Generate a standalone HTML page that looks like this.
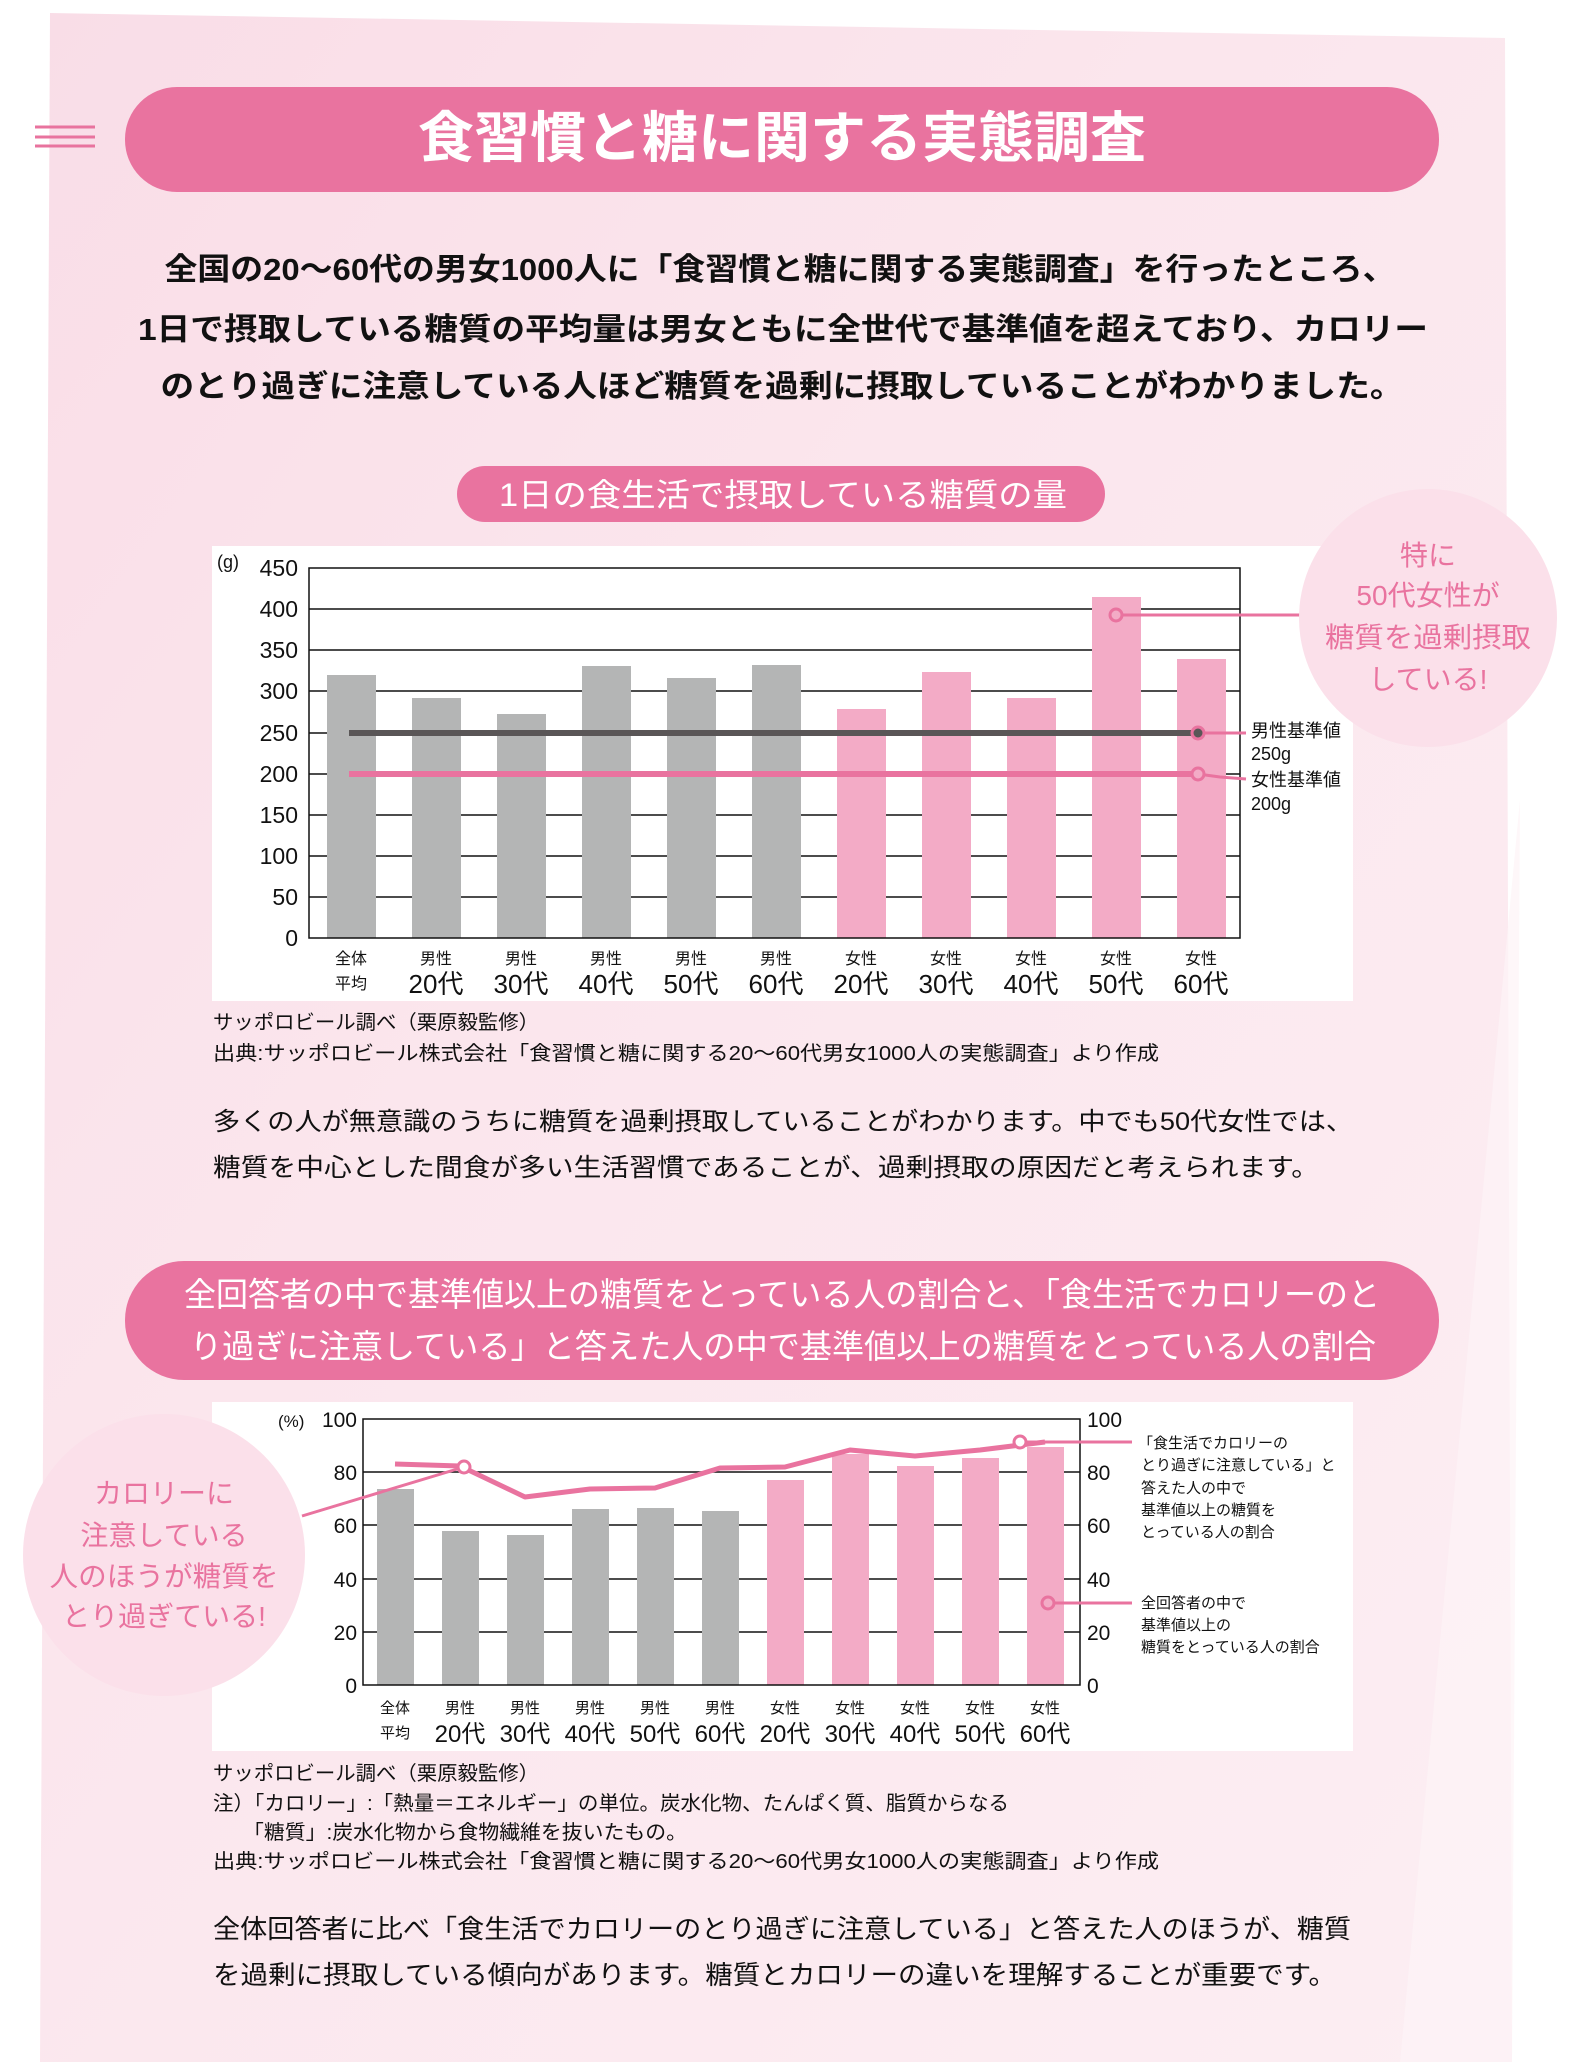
<!DOCTYPE html>
<html><head><meta charset="utf-8"><style>
html,body{margin:0;padding:0;background:#fff;}
svg{display:block;font-family:"Liberation Sans","Noto Sans CJK JP",sans-serif;}
</style></head><body>
<svg width="1577" height="2062" viewBox="0 0 1577 2062" xmlns="http://www.w3.org/2000/svg">
<defs>
<linearGradient id="bg" x1="0" y1="0" x2="1" y2="1">
<stop offset="0" stop-color="#f9dde7"/><stop offset="0.4" stop-color="#fbe6ed"/><stop offset="1" stop-color="#fceef3"/>
</linearGradient>
</defs>
<rect width="1577" height="2062" fill="#fff"/>
<polygon points="50,13 1505,38 1512,2062 40,2062" fill="url(#bg)"/>
<polygon points="1520,800 1512,2062 1400,2062" fill="#fdf3f7" opacity="0.7"/>

<!-- hamburger -->
<g stroke="#e8739e" stroke-width="3"><line x1="35" y1="127" x2="95" y2="127"/><line x1="35" y1="137" x2="95" y2="137"/><line x1="35" y1="146" x2="95" y2="146"/></g>
<!-- title banner -->
<rect x="125" y="87" width="1314" height="105" rx="52" fill="#e9739f"/>
<text x="782" y="157" text-anchor="middle" font-size="55" font-weight="bold" fill="#fff" textLength="728" lengthAdjust="spacingAndGlyphs">食習慣と糖に関する実態調査</text>

<!-- intro -->
<g font-size="31" font-weight="bold" fill="#111" text-anchor="middle">
<text x="780" y="280" textLength="1231" lengthAdjust="spacingAndGlyphs">全国の20〜60代の男女1000人に「食習慣と糖に関する実態調査」を行ったところ、</text>
<text x="783" y="340" textLength="1290" lengthAdjust="spacingAndGlyphs">1日で摂取している糖質の平均量は男女ともに全世代で基準値を超えており、カロリー</text>
<text x="782" y="397" textLength="1243" lengthAdjust="spacingAndGlyphs">のとり過ぎに注意している人ほど糖質を過剰に摂取していることがわかりました。</text>
</g>

<!-- subtitle -->
<rect x="457" y="466" width="648" height="56" rx="28" fill="#e9739f"/>
<text x="783" y="506" text-anchor="middle" font-size="32" fill="#fff" textLength="568" lengthAdjust="spacingAndGlyphs">1日の食生活で摂取している糖質の量</text>

<!-- chart 1 -->
<rect x="212" y="546" width="1141" height="455" fill="#fff"/>
<g stroke="#111" stroke-width="1.5">
<line x1="309" y1="897" x2="1240" y2="897"/><line x1="309" y1="856" x2="1240" y2="856"/>
<line x1="309" y1="815" x2="1240" y2="815"/><line x1="309" y1="774" x2="1240" y2="774"/>
<line x1="309" y1="733" x2="1240" y2="733"/><line x1="309" y1="691" x2="1240" y2="691"/>
<line x1="309" y1="650" x2="1240" y2="650"/><line x1="309" y1="609" x2="1240" y2="609"/>
</g>
<g fill="#b4b5b5">
<rect x="327" y="675" width="49" height="263"/>
<rect x="412" y="698" width="49" height="240"/>
<rect x="497" y="714" width="49" height="224"/>
<rect x="582" y="666" width="49" height="272"/>
<rect x="667" y="678" width="49" height="260"/>
<rect x="752" y="665" width="49" height="273"/>
</g>
<g fill="#f3abc6">
<rect x="837" y="709" width="49" height="229"/>
<rect x="922" y="672" width="49" height="266"/>
<rect x="1007" y="698" width="49" height="240"/>
<rect x="1092" y="597" width="49" height="341"/>
<rect x="1177" y="659" width="49" height="279"/>
</g>
<rect x="309" y="568" width="931" height="370" fill="none" stroke="#111" stroke-width="1.5"/>
<g font-size="23" fill="#111" text-anchor="end">
<text x="298" y="576">450</text><text x="298" y="617">400</text><text x="298" y="658">350</text>
<text x="298" y="699">300</text><text x="298" y="741">250</text><text x="298" y="782">200</text>
<text x="298" y="823">150</text><text x="298" y="864">100</text><text x="298" y="905">50</text><text x="298" y="946">0</text>
</g>
<text x="217" y="568" font-size="18" fill="#111">(g)</text>
<g font-size="16" fill="#111" text-anchor="middle">
<text x="351" y="964">全体</text><text x="436" y="964">男性</text><text x="521" y="964">男性</text><text x="606" y="964">男性</text><text x="691" y="964">男性</text><text x="776" y="964">男性</text>
<text x="861" y="964">女性</text><text x="946" y="964">女性</text><text x="1031" y="964">女性</text><text x="1116" y="964">女性</text><text x="1201" y="964">女性</text>
<text x="351" y="989">平均</text>
</g>
<g font-size="26" fill="#111" text-anchor="middle">
<text x="436" y="993">20代</text><text x="521" y="993">30代</text><text x="606" y="993">40代</text><text x="691" y="993">50代</text><text x="776" y="993">60代</text>
<text x="861" y="993">20代</text><text x="946" y="993">30代</text><text x="1031" y="993">40代</text><text x="1116" y="993">50代</text><text x="1201" y="993">60代</text>
</g>
<line x1="349" y1="733" x2="1198" y2="733" stroke="#5a5657" stroke-width="6"/>
<line x1="349" y1="774" x2="1198" y2="774" stroke="#e9739f" stroke-width="6"/>
<g stroke="#e9739f" stroke-width="3" fill="none">
<line x1="1198" y1="733" x2="1246" y2="733"/>
<polyline points="1198,774 1220,777 1246,779"/>
<circle cx="1198" cy="733" r="6" fill="#5a5657"/>
<circle cx="1198" cy="774" r="6" fill="#f3abc6"/>
<line x1="1116" y1="615" x2="1300" y2="615"/>
<circle cx="1116" cy="615" r="6" fill="#f3abc6"/>
</g>
<g font-size="18" fill="#111">
<text x="1251" y="737">男性基準値</text><text x="1251" y="760">250g</text>
<text x="1251" y="786">女性基準値</text><text x="1251" y="810">200g</text>
</g>
<circle cx="1428" cy="618" r="129" fill="#fbe0ea"/>
<g font-size="28" fill="#e9739f" text-anchor="middle">
<text x="1428" y="565">特に</text><text x="1428" y="605">50代女性が</text>
<text x="1428" y="647" textLength="206" lengthAdjust="spacingAndGlyphs">糖質を過剰摂取</text><text x="1428" y="689">している!</text>
</g>

<g font-size="20" fill="#111">
<text x="213" y="1029" textLength="326" lengthAdjust="spacingAndGlyphs">サッポロビール調べ（栗原毅監修）</text>
<text x="213" y="1060" textLength="946" lengthAdjust="spacingAndGlyphs">出典:サッポロビール株式会社「食習慣と糖に関する20〜60代男女1000人の実態調査」より作成</text>
</g>
<g font-size="25" fill="#111">
<text x="213" y="1130" textLength="1140" lengthAdjust="spacingAndGlyphs">多くの人が無意識のうちに糖質を過剰摂取していることがわかります。中でも50代女性では、</text>
<text x="213" y="1176" textLength="1106" lengthAdjust="spacingAndGlyphs">糖質を中心とした間食が多い生活習慣であることが、過剰摂取の原因だと考えられます。</text>
</g>

<!-- banner 2 -->
<rect x="125" y="1261" width="1314" height="119" rx="59" fill="#e9739f"/>
<g font-size="33" fill="#fff">
<text x="184" y="1306" textLength="1196" lengthAdjust="spacingAndGlyphs">全回答者の中で基準値以上の糖質をとっている人の割合と、「食生活でカロリーのと</text>
<text x="190" y="1358" textLength="1186" lengthAdjust="spacingAndGlyphs">り過ぎに注意している」と答えた人の中で基準値以上の糖質をとっている人の割合</text>
</g>

<!-- chart 2 -->
<rect x="212" y="1402" width="1141" height="349" fill="#fff"/>
<circle cx="164" cy="1555" r="141" fill="#fbe0ea"/>
<g font-size="28" fill="#e9739f" text-anchor="middle">
<text x="164" y="1503">カロリーに</text><text x="164" y="1545">注意している</text>
<text x="164" y="1586" textLength="229" lengthAdjust="spacingAndGlyphs">人のほうが糖質を</text><text x="164" y="1626">とり過ぎている!</text>
</g>
<g stroke="#111" stroke-width="1.5">
<line x1="363" y1="1632" x2="1080" y2="1632"/><line x1="363" y1="1579" x2="1080" y2="1579"/>
<line x1="363" y1="1525" x2="1080" y2="1525"/><line x1="363" y1="1472" x2="1080" y2="1472"/>
</g>
<g fill="#b4b5b5">
<rect x="377" y="1489" width="37" height="196"/>
<rect x="442" y="1531" width="37" height="154"/>
<rect x="507" y="1535" width="37" height="150"/>
<rect x="572" y="1509" width="37" height="176"/>
<rect x="637" y="1508" width="37" height="177"/>
<rect x="702" y="1511" width="37" height="174"/>
</g>
<g fill="#f3abc6">
<rect x="767" y="1480" width="37" height="205"/>
<rect x="832" y="1454" width="37" height="231"/>
<rect x="897" y="1466" width="37" height="219"/>
<rect x="962" y="1458" width="37" height="227"/>
<rect x="1027" y="1447" width="37" height="238"/>
</g>
<rect x="363" y="1419" width="717" height="266" fill="none" stroke="#111" stroke-width="1.5"/>
<polyline points="395,1464 460,1466 525,1497 590,1489 655,1488 720,1468 785,1467 850,1450 915,1456 980,1450 1045,1442" fill="none" stroke="#e9739f" stroke-width="5" stroke-linejoin="round"/>
<g stroke="#e9739f" stroke-width="3" fill="none">
<line x1="302" y1="1516" x2="464" y2="1467"/>
<circle cx="464" cy="1467" r="6" fill="#fff"/>
<line x1="1020" y1="1442" x2="1132" y2="1442"/>
<circle cx="1020" cy="1442" r="6" fill="#fff"/>
<line x1="1048" y1="1603" x2="1132" y2="1603"/>
<circle cx="1048" cy="1603" r="6" fill="#f3abc6"/>
</g>
<g font-size="21" fill="#111" text-anchor="end">
<text x="357" y="1427">100</text><text x="357" y="1480">80</text><text x="357" y="1533">60</text>
<text x="357" y="1587">40</text><text x="357" y="1640">20</text><text x="357" y="1693">0</text>
</g>
<g font-size="21" fill="#111">
<text x="1087" y="1427">100</text><text x="1087" y="1480">80</text><text x="1087" y="1533">60</text>
<text x="1087" y="1587">40</text><text x="1087" y="1640">20</text><text x="1087" y="1693">0</text>
</g>
<text x="278" y="1427" font-size="17" fill="#111">(%)</text>
<g font-size="15" fill="#111" text-anchor="middle">
<text x="395" y="1713">全体</text><text x="460" y="1713">男性</text><text x="525" y="1713">男性</text><text x="590" y="1713">男性</text><text x="655" y="1713">男性</text><text x="720" y="1713">男性</text>
<text x="785" y="1713">女性</text><text x="850" y="1713">女性</text><text x="915" y="1713">女性</text><text x="980" y="1713">女性</text><text x="1045" y="1713">女性</text>
<text x="395" y="1738">平均</text>
</g>
<g font-size="24" fill="#111" text-anchor="middle">
<text x="460" y="1742">20代</text><text x="525" y="1742">30代</text><text x="590" y="1742">40代</text><text x="655" y="1742">50代</text><text x="720" y="1742">60代</text>
<text x="785" y="1742">20代</text><text x="850" y="1742">30代</text><text x="915" y="1742">40代</text><text x="980" y="1742">50代</text><text x="1045" y="1742">60代</text>
</g>
<g font-size="15" fill="#111">
<text x="1138" y="1448">「食生活でカロリーの</text>
<text x="1141" y="1470">とり過ぎに注意している」と</text>
<text x="1141" y="1493">答えた人の中で</text>
<text x="1141" y="1515">基準値以上の糖質を</text>
<text x="1141" y="1537">とっている人の割合</text>
<text x="1141" y="1608">全回答者の中で</text>
<text x="1141" y="1630">基準値以上の</text>
<text x="1141" y="1652">糖質をとっている人の割合</text>
</g>

<g font-size="20" fill="#111">
<text x="213" y="1780" textLength="326" lengthAdjust="spacingAndGlyphs">サッポロビール調べ（栗原毅監修）</text>
<text x="213" y="1810" textLength="796" lengthAdjust="spacingAndGlyphs">注）「カロリー」:「熱量＝エネルギー」の単位。炭水化物、たんぱく質、脂質からなる</text>
<text x="243" y="1839" textLength="444" lengthAdjust="spacingAndGlyphs">「糖質」:炭水化物から食物繊維を抜いたもの。</text>
<text x="213" y="1868" textLength="946" lengthAdjust="spacingAndGlyphs">出典:サッポロビール株式会社「食習慣と糖に関する20〜60代男女1000人の実態調査」より作成</text>
</g>
<g font-size="26" fill="#111">
<text x="213" y="1938" textLength="1138" lengthAdjust="spacingAndGlyphs">全体回答者に比べ「食生活でカロリーのとり過ぎに注意している」と答えた人のほうが、糖質</text>
<text x="213" y="1984" textLength="1123" lengthAdjust="spacingAndGlyphs">を過剰に摂取している傾向があります。糖質とカロリーの違いを理解することが重要です。</text>
</g>
</svg>
</body></html>
